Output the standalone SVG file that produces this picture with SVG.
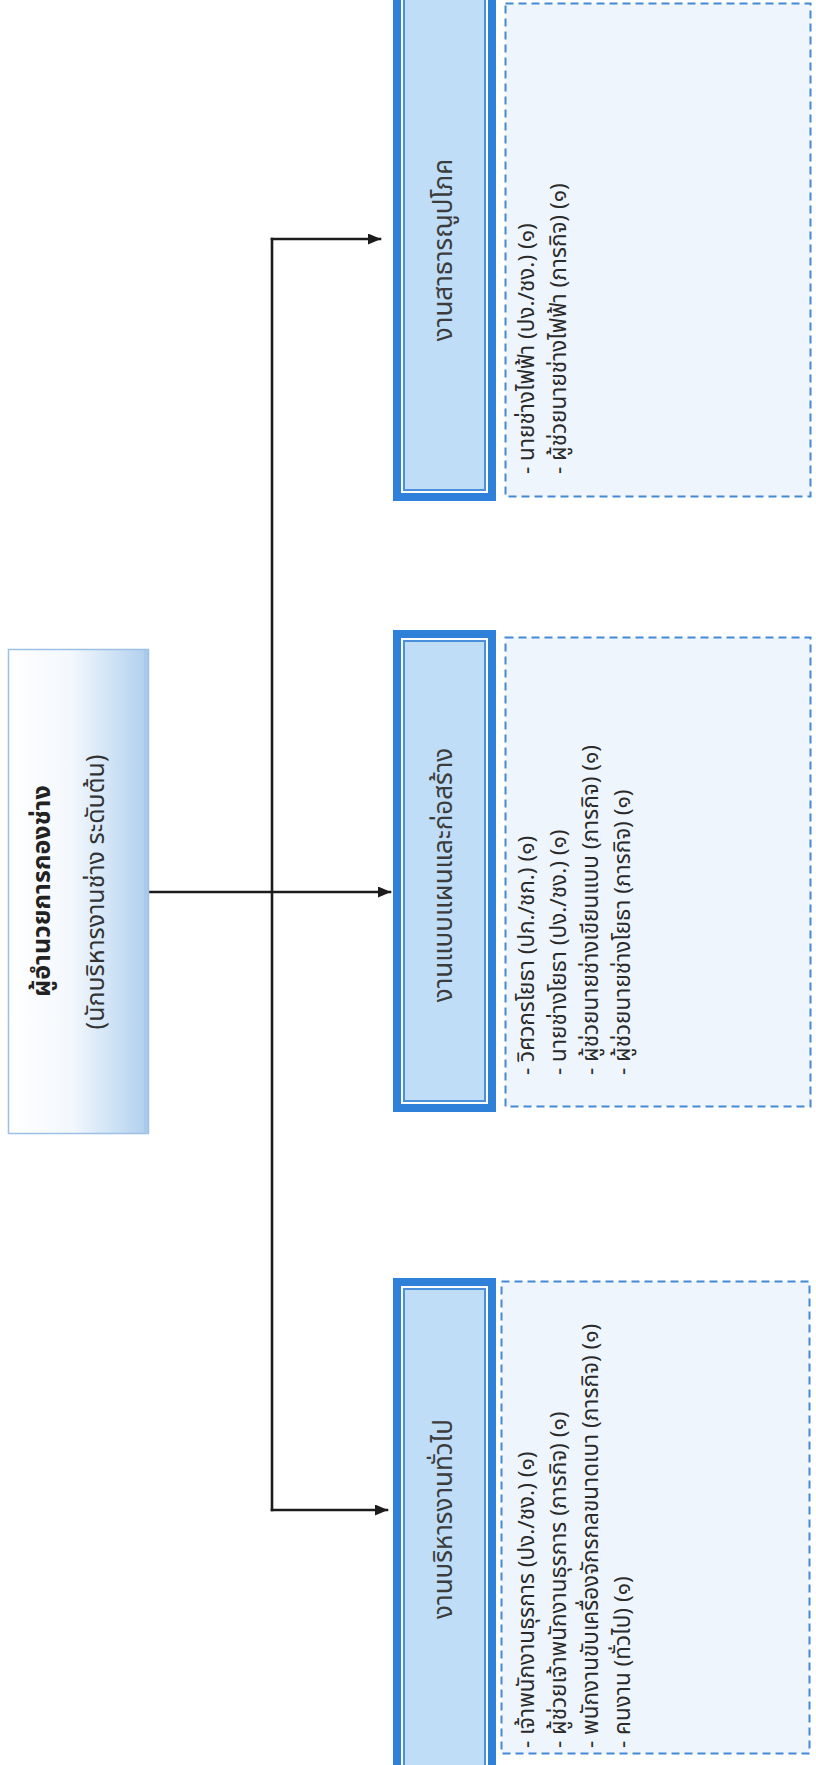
<svg xmlns="http://www.w3.org/2000/svg" width="816" height="1765" viewBox="0 0 816 1765">
  <style>
    .th { font-family: 'Noto Sans Thai', 'Noto Sans', 'DejaVu Sans', sans-serif; fill: #2b2b2b; }
    .head { font-size: 26px; text-anchor: middle; fill: #3c3c3c; }
    .item { font-size: 22.5px; }
    .boss1 { font-size: 25px; font-weight: bold; text-anchor: middle; fill: #222; }
    .boss2 { font-size: 25px; text-anchor: middle; fill: #333; }
    .band { fill: #2F80D8; }
    .gap { fill: #FFFFFF; }
    .rim { fill: #4A90DC; }
    .core { fill: #BFDDF6; }
    .list { fill: #EEF5FC; stroke: #4489D6; stroke-width: 2; stroke-dasharray: 8 5; }
    .wire { fill: none; stroke: #1c1c1c; stroke-width: 2.6; stroke-linecap: square; }
  </style>
  <defs>
    <linearGradient id="bossFill" x1="0" y1="0" x2="1" y2="0">
      <stop offset="0" stop-color="#FFFFFF"/>
      <stop offset="0.45" stop-color="#F3F8FD"/>
      <stop offset="1" stop-color="#AFCFEE"/>
    </linearGradient>
    <marker id="arrow" markerUnits="userSpaceOnUse" markerWidth="13" markerHeight="11" refX="12" refY="5.5" orient="auto">
      <path d="M0,0 L13,5.5 L0,11 z" fill="#1c1c1c"/>
    </marker>
  </defs>

  <!-- connectors -->
  <g id="connectors">
    <line class="wire" x1="149" y1="892" x2="390" y2="892" marker-end="url(#arrow)"/>
    <polyline class="wire" points="272,239 272,1510" stroke-linejoin="miter"/>
    <line class="wire" x1="272" y1="239" x2="380" y2="239" marker-end="url(#arrow)"/>
    <line class="wire" x1="272" y1="1510" x2="387" y2="1510" marker-end="url(#arrow)"/>
  </g>

  <!-- head of division -->
  <g id="director">
    <rect x="8.5" y="649.5" width="140" height="484" fill="url(#bossFill)" stroke="#9DC0E4" stroke-width="1.5"/>
    <rect x="144" y="650" width="4" height="483" fill="#A9C9EA"/>
    <text class="th boss1" transform="translate(50,891) rotate(-90)">ผู้อำนวยการกองช่าง</text>
    <text class="th boss2" transform="translate(104,892) rotate(-90)">(นักบริหารงานช่าง ระดับต้น)</text>
  </g>

  <!-- utilities section -->
  <g id="utilities">
    <rect class="band" x="393" y="-10" width="103" height="511"/>
    <rect class="gap" x="401" y="-10" width="87" height="503"/>
    <rect class="rim" x="403" y="-10" width="83" height="501"/>
    <rect class="core" x="405" y="-10" width="79" height="499"/>
    <text class="th head" transform="translate(452,250) rotate(-90)">งานสาธารณูปโภค</text>
    <rect class="list" x="505.5" y="3.5" width="305" height="493"/>
    <text class="th item" transform="translate(534,474) rotate(-90)">- นายช่างไฟฟ้า  (ปง./ชง.)  (๑)</text>
    <text class="th item" transform="translate(566,474) rotate(-90)">- ผู้ช่วยนายช่างไฟฟ้า (ภารกิจ) (๑)</text>
  </g>

  <!-- design and construction section -->
  <g id="construction">
    <rect class="band" x="393" y="630" width="103" height="482"/>
    <rect class="gap" x="401" y="638" width="87" height="466"/>
    <rect class="rim" x="403" y="640" width="83" height="462"/>
    <rect class="core" x="405" y="642" width="79" height="458"/>
    <text class="th head" transform="translate(452,875) rotate(-90)">งานแบบแผนและก่อสร้าง</text>
    <rect class="list" x="505.5" y="637.5" width="305" height="469"/>
    <text class="th item" transform="translate(534,1075) rotate(-90)">- วิศวกรโยธา (ปก./ชก.) (๑)</text>
    <text class="th item" transform="translate(566,1075) rotate(-90)">- นายช่างโยธา (ปง./ชง.)  (๑)</text>
    <text class="th item" transform="translate(598,1075) rotate(-90)">- ผู้ช่วยนายช่างเขียนแบบ (ภารกิจ) (๑)</text>
    <text class="th item" transform="translate(630,1075) rotate(-90)">- ผู้ช่วยนายช่างโยธา (ภารกิจ) (๑)</text>
  </g>

  <!-- general administration section -->
  <g id="administration">
    <rect class="band" x="393" y="1278" width="103" height="497"/>
    <rect class="gap" x="401" y="1286" width="87" height="489"/>
    <rect class="rim" x="403" y="1288" width="83" height="487"/>
    <rect class="core" x="405" y="1290" width="79" height="485"/>
    <text class="th head" transform="translate(452,1519) rotate(-90)">งานบริหารงานทั่วไป</text>
    <rect class="list" x="501.5" y="1281.5" width="308" height="472"/>
    <text class="th item" transform="translate(534,1748) rotate(-90)">- เจ้าพนักงานธุรการ (ปง./ชง.) (๑)</text>
    <text class="th item" transform="translate(566,1748) rotate(-90)">- ผู้ช่วยเจ้าพนักงานธุรการ (ภารกิจ) (๑)</text>
    <text class="th item" transform="translate(598,1748) rotate(-90)">- พนักงานขับเครื่องจักรกลขนาดเบา (ภารกิจ) (๑)</text>
    <text class="th item" transform="translate(630,1748) rotate(-90)">- คนงาน (ทั่วไป) (๑)</text>
  </g>
</svg>
